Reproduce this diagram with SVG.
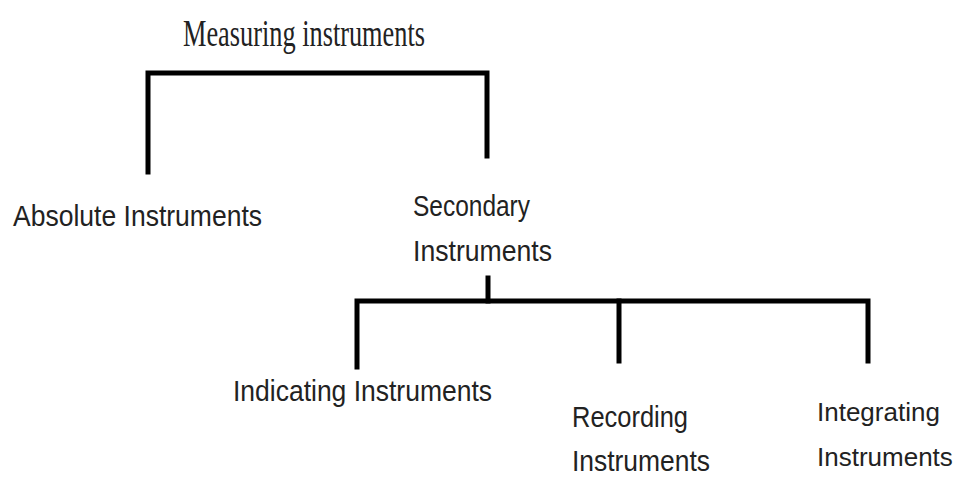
<svg xmlns="http://www.w3.org/2000/svg" width="960" height="477" viewBox="0 0 960 477">
<style>
.ln{stroke:#000;stroke-width:5;fill:none;stroke-linecap:square}
.t{font-family:"Liberation Sans",Arial,sans-serif;font-size:30px;fill:#222}
.ts{font-family:"Liberation Serif","Times New Roman",serif;font-size:38px;fill:#222}
</style>
<rect width="960" height="477" fill="#fff"/>
<g id="connectors">
<path class="ln" d="M148,172 V73 H487 V156"/>
<path class="ln" d="M488,278 V301"/>
<path class="ln" d="M357,367 V301 H868 V361"/>
<path class="ln" d="M619,301 V361"/>
</g>
<g id="root"><text class="ts" x="183" y="46" textLength="242" lengthAdjust="spacingAndGlyphs">Measuring instruments</text></g>
<g id="absolute"><text class="t" x="13" y="226" textLength="249" lengthAdjust="spacingAndGlyphs">Absolute Instruments</text></g>
<g id="secondary"><text class="t" x="413" y="216" textLength="117" lengthAdjust="spacingAndGlyphs">Secondary</text><text class="t" x="413" y="261" textLength="139" lengthAdjust="spacingAndGlyphs">Instruments</text></g>
<g id="indicating"><text class="t" x="233" y="401" textLength="259" lengthAdjust="spacingAndGlyphs">Indicating Instruments</text></g>
<g id="recording"><text class="t" x="572" y="427" textLength="116" lengthAdjust="spacingAndGlyphs">Recording</text><text class="t" x="572" y="471" textLength="138" lengthAdjust="spacingAndGlyphs">Instruments</text></g>
<g id="integrating"><text class="t" style="font-size:26px" x="817" y="421">Integrating</text><text class="t" style="font-size:26px" x="817" y="466">Instruments</text></g>
</svg>
